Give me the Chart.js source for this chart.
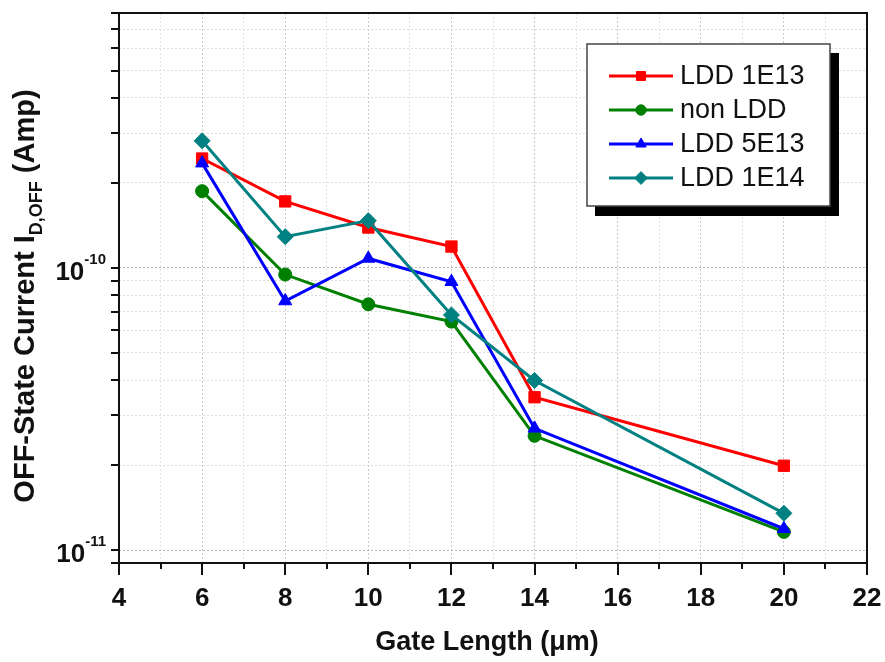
<!DOCTYPE html>
<html>
<head>
<meta charset="utf-8">
<script src="https://cdn.jsdelivr.net/npm/chart.js@4/dist/chart.umd.min.js"></script>
<style>
  html, body { margin: 0; padding: 0; background: #fff; }
  #wrap { width: 885px; height: 662px; }
</style>
</head>
<body>
<div id="wrap"><canvas id="c"></canvas></div>
<script>
// Gate length (µm) vs OFF-state current, log scale
const gateLength = [6, 8, 10, 12, 14, 20];
const ldd1e13 = [2.44e-10, 1.72e-10, 1.39e-10, 1.19e-10, 3.48e-11, 1.99e-11];
const nonLdd  = [1.87e-10, 9.47e-11, 7.43e-11, 6.45e-11, 2.54e-11, 1.16e-11];
const ldd5e13 = [2.35e-10, 7.63e-11, 1.08e-10, 8.93e-11, 2.70e-11, 1.19e-11];
const ldd1e14 = [2.82e-10, 1.29e-10, 1.47e-10, 6.81e-11, 3.99e-11, 1.35e-11];

const seriesLabels = ['LDD 1E13', 'non LDD', 'LDD 5E13', 'LDD 1E14'];
const seriesColors = ['#ff0000', '#008000', '#0000ff', '#008080'];
const seriesShapes = ['rect', 'circle', 'triangle', 'rectRot'];
const seriesRadius = [8, 6.5, 7.5, 8];

const xTickValues = [4, 5, 6, 7, 8, 9, 10, 11, 12, 13, 14, 15, 16, 17, 18, 19, 20, 21, 22];
const yTickValues = [9e-12, 1e-11, 2e-11, 3e-11, 4e-11, 5e-11, 6e-11, 7e-11, 8e-11, 9e-11,
                     1e-10, 2e-10, 3e-10, 4e-10, 5e-10, 6e-10, 7e-10, 8e-10];
const yLabelValues = [1e-10, 1e-11];
const yLabelExps = ['-10', '-11'];

const FONT = "'Liberation Sans', Arial, sans-serif";
const allSeries = [ldd1e13, nonLdd, ldd5e13, ldd1e14];

const datasets = allSeries.map((vals, i) => ({
  label: seriesLabels[i],
  data: gateLength.map((x, j) => ({ x, y: vals[j] })),
  borderColor: seriesColors[i],
  backgroundColor: seriesColors[i],
  pointBackgroundColor: seriesColors[i],
  pointBorderColor: seriesColors[i],
  pointStyle: seriesShapes[i],
  pointRadius: seriesRadius[i],
  pointBorderWidth: 1,
  borderWidth: 3,
  tension: 0,
  order: allSeries.length - i, // later series drawn on top
}));

function drawMarker(ctx, shape, r, x, y) {
  if (Chart.helpers && Chart.helpers.drawPoint) {
    Chart.helpers.drawPoint(ctx, { pointStyle: shape, radius: r, rotation: 0, borderWidth: 1 }, x, y);
    return;
  }
  ctx.beginPath();
  ctx.arc(x, y, r, 0, Math.PI * 2);
  ctx.fill();
}

const decor = {
  id: 'decor',
  beforeDraw(chart) {
    const { ctx, width, height } = chart;
    ctx.save();
    ctx.fillStyle = '#fff';
    ctx.fillRect(0, 0, width, height);
    ctx.restore();
  },
  afterDraw(chart) {
    const { ctx, chartArea: a } = chart;
    const xs = chart.scales.x, ys = chart.scales.y;
    ctx.save();

    // frame
    ctx.strokeStyle = '#111';
    ctx.lineWidth = 2;
    ctx.strokeRect(a.left, a.top, a.right - a.left, a.bottom - a.top);

    // tick marks
    ctx.lineWidth = 2;
    ctx.beginPath();
    xTickValues.forEach((v) => {
      const px = Math.round(xs.getPixelForValue(v));
      const len = v % 2 === 0 ? 12 : 6;
      ctx.moveTo(px, a.bottom);
      ctx.lineTo(px, a.bottom + len);
    });
    yTickValues.forEach((v) => {
      const py = Math.round(ys.getPixelForValue(v));
      ctx.moveTo(a.left, py);
      ctx.lineTo(a.left - 8, py);
    });
    ctx.stroke();

    // y labels 10^n
    ctx.fillStyle = '#111';
    ctx.textBaseline = 'alphabetic';
    yLabelValues.forEach((v, i) => {
      const py = ys.getPixelForValue(v);
      ctx.font = `bold 15px ${FONT}`;
      const ew = ctx.measureText(yLabelExps[i]).width;
      const right = a.left - 13;
      ctx.textAlign = 'left';
      ctx.fillText(yLabelExps[i], right - ew, py - 4);
      ctx.font = `bold 26px ${FONT}`;
      ctx.textAlign = 'right';
      ctx.fillText('10', right - ew, py + 12);
    });

    // y title with subscript
    const parts = [
      { t: 'OFF-State Current I', f: `bold 29px ${FONT}`, dy: 0 },
      { t: 'D,OFF', f: `bold 18px ${FONT}`, dy: 8 },
      { t: ' (Amp)', f: `bold 29px ${FONT}`, dy: 0 },
    ];
    let total = 0;
    parts.forEach((p) => { ctx.font = p.f; p.w = ctx.measureText(p.t).width; total += p.w; });
    ctx.translate(34, 296);
    ctx.rotate(-Math.PI / 2);
    ctx.textAlign = 'left';
    let cx = -total / 2;
    parts.forEach((p) => {
      ctx.font = p.f;
      ctx.fillText(p.t, cx, p.dy);
      cx += p.w;
    });
    ctx.setTransform(1, 0, 0, 1, 0, 0);

    // x title
    ctx.font = `bold 27px ${FONT}`;
    ctx.textAlign = 'center';
    ctx.fillText('Gate Length (\u03bcm)', (a.left + a.right) / 2 - 6, 650);

    // legend box with shadow
    const L = 587, T = 44, W = 243, H = 162;
    ctx.fillStyle = '#000';
    ctx.fillRect(L + 8, T + 9, W + 1, H + 1);
    ctx.fillStyle = '#fff';
    ctx.fillRect(L, T, W, H);
    ctx.strokeStyle = '#444';
    ctx.lineWidth = 1.5;
    ctx.strokeRect(L, T, W, H);

    const rowY = [76, 110, 144, 178];
    seriesLabels.forEach((lab, i) => {
      const y = rowY[i];
      ctx.strokeStyle = seriesColors[i];
      ctx.fillStyle = seriesColors[i];
      ctx.lineWidth = 3;
      ctx.beginPath();
      ctx.moveTo(609, y);
      ctx.lineTo(673, y);
      ctx.stroke();
      ctx.lineWidth = 1;
      drawMarker(ctx, seriesShapes[i], seriesRadius[i] * 0.8, 641, y);
      ctx.fillStyle = '#111';
      ctx.font = `27px ${FONT}`;
      ctx.textAlign = 'left';
      ctx.textBaseline = 'middle';
      ctx.fillText(lab, 680, y + 1);
    });

    ctx.restore();
  },
};

new Chart(document.getElementById('c'), {
  type: 'line',
  data: { datasets },
  options: {
    responsive: true,
    maintainAspectRatio: false,
    animation: false,
    layout: { padding: { top: 13, right: 18, left: 0, bottom: 0 } },
    plugins: {
      legend: { display: false },
      tooltip: { enabled: false },
    },
    scales: {
      x: {
        type: 'linear',
        min: 4,
        max: 22,
        afterBuildTicks: (s) => { s.ticks = xTickValues.map((v) => ({ value: v })); },
        afterFit: (s) => { s.height = 99; s.paddingLeft = 0; s.paddingRight = 0; },
        grid: {
          color: (c) => (c.tick && c.tick.value % 2 === 0 ? '#c8c8c8' : '#e2e2e2'),
          lineWidth: 1,
          drawTicks: false,
        },
        border: { display: false, dash: [2, 2] },
        ticks: {
          autoSkip: false,
          maxRotation: 0,
          padding: 20,
          color: '#111',
          font: { family: FONT, size: 26, weight: 'bold' },
          callback: (v) => (v % 2 === 0 ? String(v) : ''),
        },
      },
      y: {
        type: 'logarithmic',
        min: 9e-12,
        max: 8e-10,
        afterBuildTicks: (s) => { s.ticks = yTickValues.map((v) => ({ value: v })); },
        afterFit: (s) => { s.width = 119; s.paddingTop = 0; s.paddingBottom = 0; },
        grid: {
          color: (c) => (c.tick && yLabelValues.includes(c.tick.value) ? '#b8b8b8' : '#dcdcdc'),
          lineWidth: 1,
          drawTicks: false,
        },
        border: { display: false, dash: [2, 2] },
        ticks: { display: false },
      },
    },
  },
  plugins: [decor],
});
</script>
</body>
</html>
